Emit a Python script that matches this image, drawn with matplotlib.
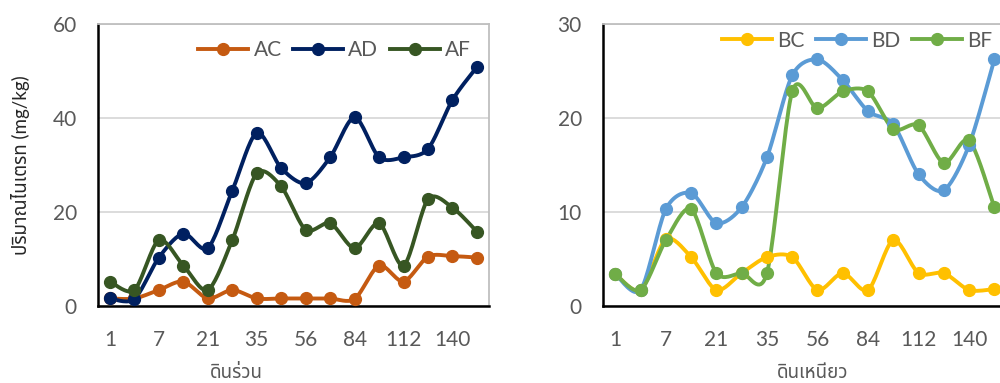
import numpy as np
import matplotlib
matplotlib.use("Agg")
import matplotlib.pyplot as plt
from matplotlib.lines import Line2D

plt.rcParams['font.family'] = ['Lato', 'Noto Sans Thai', 'Loma', 'Garuda', 'Tlwg Typo', 'DejaVu Sans']

# sampling days (category axis, every second label shown)
days = ['1', '3', '7', '14', '21', '28', '35', '42', '56', '70', '84', '98', '112', '126', '140', '154']

# loam soil (ดินร่วน)
AC = [1.6, 1.6, 3.4, 5.2, 1.6, 3.4, 1.6, 1.6, 1.6, 1.6, 1.5, 8.6, 5.2, 10.5, 10.6, 10.3]
AD = [1.6, 1.5, 10.3, 15.4, 12.3, 24.5, 36.8, 29.3, 26.1, 31.6, 40.1, 31.6, 31.6, 33.4, 43.8, 50.8]
AF = [5.2, 3.4, 14.0, 8.6, 3.4, 14.0, 28.2, 25.4, 16.2, 17.6, 12.3, 17.6, 8.6, 22.7, 20.9, 15.8]

# clay soil (ดินเหนียว)
BC = [3.4, 1.7, 7.1, 5.2, 1.7, 3.5, 5.2, 5.2, 1.7, 3.5, 1.7, 7.0, 3.5, 3.5, 1.7, 1.8]
BD = [3.4, 1.7, 10.3, 12.0, 8.8, 10.5, 15.8, 24.5, 26.2, 24.0, 20.7, 19.3, 14.0, 12.3, 17.1, 26.2]
BF = [3.4, 1.7, 7.0, 10.3, 3.5, 3.5, 3.5, 22.8, 21.0, 22.8, 22.8, 18.8, 19.2, 15.2, 17.6, 10.5]

W, H = 1000, 383
fig = plt.figure(figsize=(W / 100, H / 100), dpi=100)

grey = '#595959'


def smooth(x, y, sx, sy, n=20, k=1 / 7):
    # Excel-like smoothed line: Catmull-Rom bezier in screen space
    p = np.column_stack([np.asarray(x, float) * sx, np.asarray(y, float) * sy])
    pts = []
    for i in range(len(p) - 1):
        p0 = p[max(i - 1, 0)]
        p1 = p[i]
        p2 = p[i + 1]
        p3 = p[min(i + 2, len(p) - 1)]
        c1 = p1 + (p2 - p0) * k
        c2 = p2 - (p3 - p1) * k
        t = np.linspace(0, 1, n)[:, None]
        seg = ((1 - t) ** 3) * p1 + 3 * ((1 - t) ** 2) * t * c1 + 3 * (1 - t) * t ** 2 * c2 + t ** 3 * p2
        pts.append(seg if i == 0 else seg[1:])
    pts = np.vstack(pts)
    return pts[:, 0] / sx, pts[:, 1] / sy


def panel(rect, series, ymax, xlabel, xlab_x, ylabel=None, leg_anchor=None):
    ax = fig.add_axes(rect)
    x = np.arange(len(days))
    ax.set_xlim(-0.5, len(days) - 0.5)
    ax.set_ylim(0, ymax)
    wpx = rect[2] * W
    hpx = rect[3] * H
    sx = wpx / len(days)
    sy = hpx / ymax
    handles = []
    for name, vals, col in series:
        xs, ys = smooth(x, vals, sx, sy)
        ax.plot(xs, ys, color=col, lw=2.8, solid_capstyle='round', zorder=3)
        ax.plot(x, vals, 'o', color=col, ms=8.5, zorder=4)
        handles.append(Line2D([], [], color=col, lw=2.8, marker='o', ms=8.5, label=name))
    ax.set_yticks(np.linspace(0, ymax, 4))
    ax.set_xticks(x[::2])
    ax.set_xticklabels(days[::2])
    ax.tick_params(length=0, labelsize=15, colors=grey)
    ax.tick_params(axis='x', pad=17)
    ax.tick_params(axis='y', pad=15)
    ax.grid(axis='y', color='#D9D9D9', lw=1.3)
    ax.set_axisbelow(True)
    for s in ['top', 'right']:
        ax.spines[s].set_color('#BFBFBF')
        ax.spines[s].set_linewidth(1.3)
    for s in ['left', 'bottom']:
        ax.spines[s].set_color('black')
        ax.spines[s].set_linewidth(1.8)
    ax.set_xlabel(xlabel, fontsize=13.5, color=grey, va='center')
    ax.xaxis.set_label_coords(xlab_x, -0.235)
    if ylabel:
        ax.set_ylabel(ylabel, fontsize=13.5, color='#262626', labelpad=16)
    ax.legend(handles=handles, loc='upper right', bbox_to_anchor=leg_anchor, ncol=3, frameon=False,
              fontsize=15, labelcolor=grey, handlelength=2.4, handletextpad=0.25, columnspacing=0.55,
              borderaxespad=0.2)
    return ax


top = 1 - 23.7 / H
bot = 1 - 306 / H
panel([97.7 / W, bot, 391.5 / W, top - bot],
      [('AC', AC, '#C55A11'), ('AD', AD, '#002060'), ('AF', AF, '#375623')],
      60, 'ดินร่วน', 0.353, 'ปริมาณไนเตรท (mg/kg)', leg_anchor=(0.985, 0.985))
panel([602.7 / W, bot, 404.3 / W, top - bot],
      [('BC', BC, '#FFC000'), ('BD', BD, '#5B9BD5'), ('BF', BF, '#70AD47')],
      30, 'ดินเหนียว', 0.52, leg_anchor=(0.995, 1.02))

fig.savefig('out.png', dpi=100)
